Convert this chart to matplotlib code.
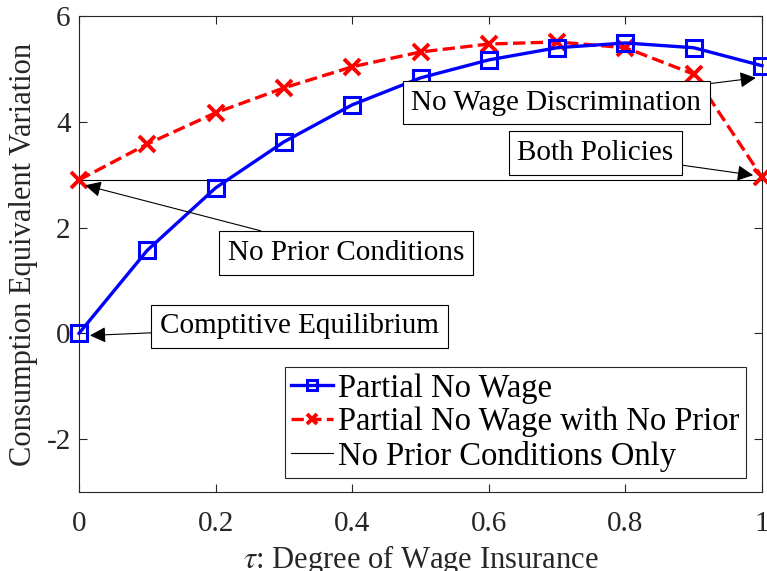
import matplotlib.pyplot as plt

plt.rcParams['font.family'] = ['Liberation Serif', 'DejaVu Serif']
plt.rcParams['mathtext.fontset'] = 'stix'
plt.rcParams['axes.unicode_minus'] = False

tau = [0, 0.1, 0.2, 0.3, 0.4, 0.5, 0.6, 0.7, 0.8, 0.9, 1.0]
partial_no_wage = [0.0, 1.57, 2.75, 3.62, 4.32, 4.83, 5.17, 5.40, 5.49, 5.40, 5.06]
partial_no_prior = [2.90, 3.58, 4.17, 4.64, 5.04, 5.32, 5.47, 5.51, 5.40, 4.90, 2.95]
no_prior_only = 2.90

fig = plt.figure(figsize=(7.67, 5.71), dpi=100)
ax = fig.add_axes([79 / 767, 1 - 492 / 571, 683 / 767, 476 / 571])

ax.plot(tau, partial_no_wage, '-s', color='blue', lw=2.4, ms=11, mfc='none', mew=2.2,
        label='Partial No Wage', clip_on=False, zorder=4)
ax.plot(tau, partial_no_prior, '--x', color='red', lw=2.4, ms=11, mew=2.8,
        label='Partial No Wage with No Prior', clip_on=False, zorder=3)
ax.axhline(no_prior_only, color='black', lw=0.8, label='No Prior Conditions Only')

ax.set_xlim(0, 1)
ax.set_ylim(-3, 6)
ax.set_xticks([0, 0.2, 0.4, 0.6, 0.8, 1])
ax.set_xticklabels(['0', '0.2', '0.4', '0.6', '0.8', '1'])
ax.set_yticks([-2, 0, 2, 4, 6])
ax.tick_params(direction='in', labelsize=21, length=6, pad=6, color='#262626', labelcolor='#262626',
               top=True, right=True)
ax.tick_params(axis='x', pad=14)
for s in ax.spines.values():
    s.set_color('#262626')
    s.set_linewidth(0.8)
ax.set_xlabel(r'$\tau$: Degree of Wage Insurance', fontsize=22, color='#262626', labelpad=4)
ax.set_ylabel('Consumption Equivalent Variation', fontsize=22, color='#262626', labelpad=6)

box = dict(boxstyle='square,pad=0.3', fc='white', ec='black', lw=0.8)
arr = dict(arrowstyle='-|>', color='black', lw=0.8, mutation_scale=24, shrinkA=0, shrinkB=0)
ax.annotate('No Wage Discrimination', xy=(0.991, 4.83), xytext=(0.699, 4.36), fontsize=21,
            ha='center', va='center', bbox=box, arrowprops=arr, zorder=5)
ax.annotate('Both Policies', xy=(0.987, 2.99), xytext=(0.756, 3.41), fontsize=21,
            ha='center', va='center', bbox=box, arrowprops=arr, zorder=5)
ax.annotate('No Prior Conditions', xy=(0.009, 2.80), xytext=(0.391, 1.52), fontsize=21,
            ha='center', va='center', bbox=box, arrowprops=arr, zorder=5)
ax.annotate('Comptitive Equilibrium', xy=(0.016, -0.04), xytext=(0.323, 0.13), fontsize=21,
            ha='center', va='center', bbox=box, arrowprops=arr, zorder=5)

leg = ax.legend(loc='lower right', bbox_to_anchor=(0.977, 0.029), fontsize=23.5, fancybox=False,
                edgecolor='#262626', framealpha=1, handlelength=1.3, handletextpad=0.15,
                borderpad=0.2, labelspacing=0.1, borderaxespad=0, markerscale=0.65)
leg.get_frame().set_linewidth(0.8)

fig.savefig('out.png', dpi=100)
